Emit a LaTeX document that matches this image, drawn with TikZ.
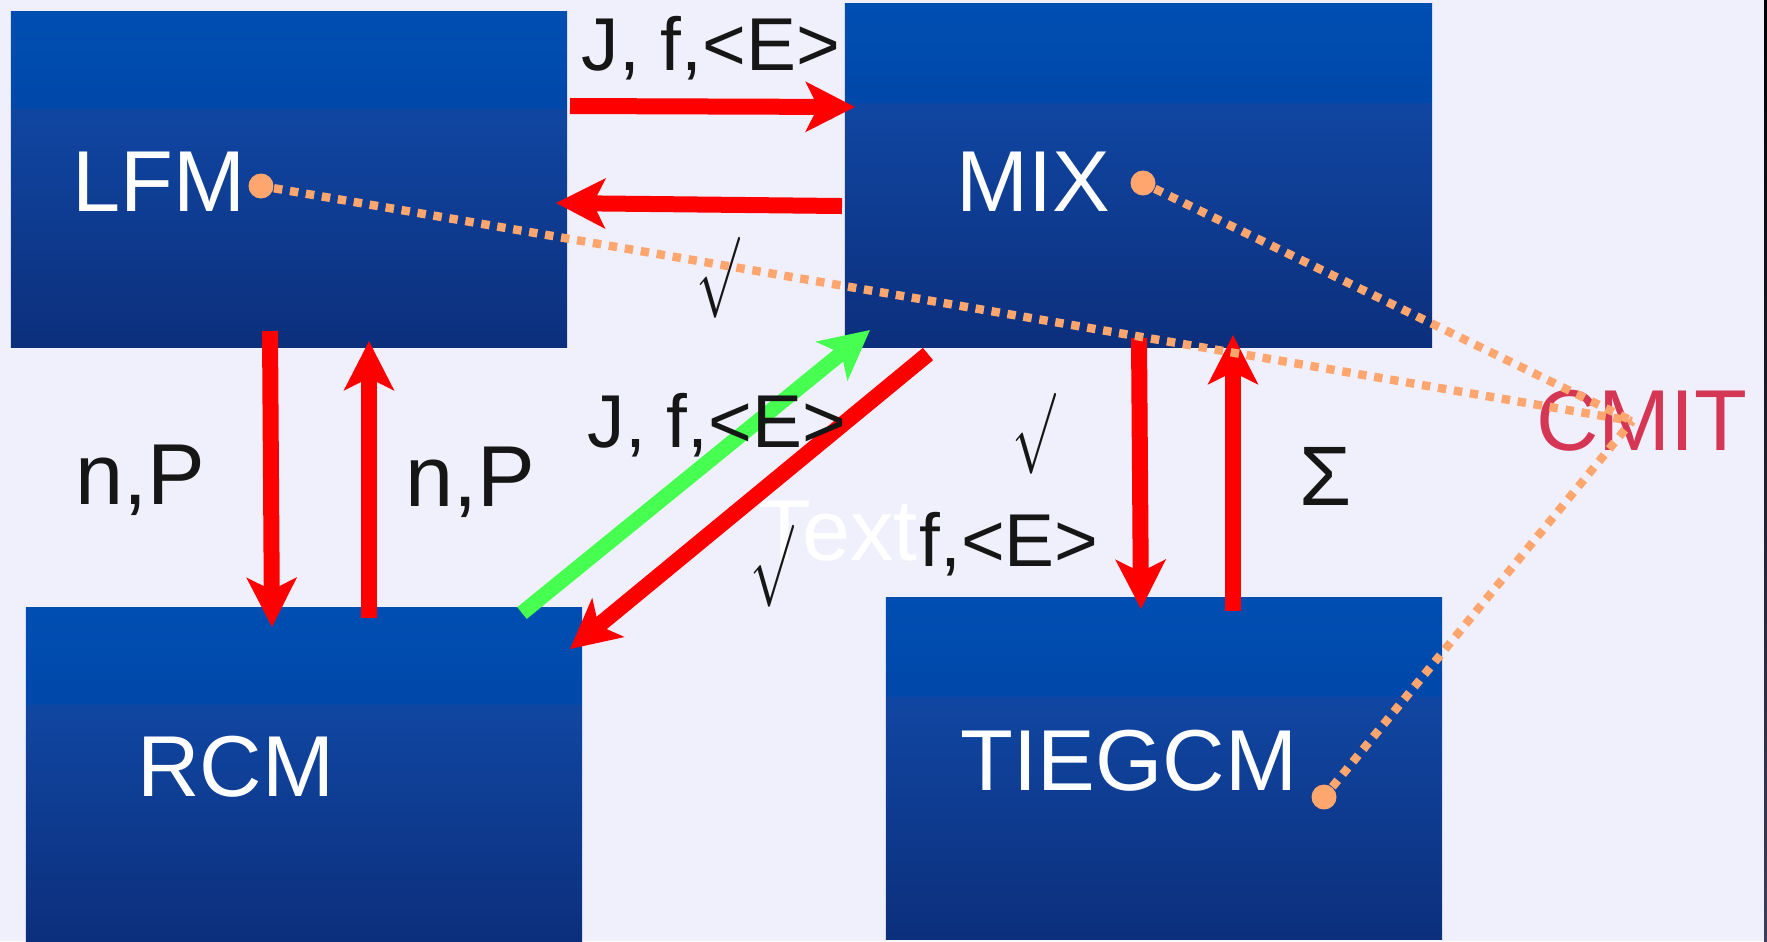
\documentclass[tikz,border=0pt]{standalone}
\usepackage{fontspec}
\usepackage{graphicx}
\setmainfont{Liberation Sans}
\usetikzlibrary{arrows.meta}

\definecolor{bg}{RGB}{240,240,252}
\definecolor{bxtop}{RGB}{0,78,178}
\definecolor{bxhi}{RGB}{0,72,170}
\definecolor{bxmid}{RGB}{16,70,162}
\definecolor{bxbot}{RGB}{12,47,124}
\definecolor{arrred}{RGB}{255,0,0}
\definecolor{arrgreen}{RGB}{70,255,80}
\definecolor{dotcol}{RGB}{255,166,110}
\definecolor{cmitcol}{RGB}{212,54,84}
\definecolor{lblcol}{RGB}{22,22,22}
\definecolor{edgetop}{RGB}{0,0,0}
\definecolor{edgebot}{RGB}{62,60,92}

\pgfdeclareverticalshading{boxshade}{100bp}{%
  color(0bp)=(bxbot); color(25bp)=(bxbot);
  color(60.4bp)=(bxmid); color(60.8bp)=(bxhi);
  color(75bp)=(bxtop); color(100bp)=(bxtop)}

\tikzset{
  modelbox/.style={rectangle, draw=none, shading=boxshade, inner sep=0pt},
  boxtext/.style={font=\fontsize{24.6}{30}\selectfont, text=white, anchor=base, inner sep=0pt},
  lbl/.style={font=\fontsize{21.3}{26}\selectfont, text=lblcol, anchor=base, inner sep=0pt},
  biglbl/.style={font=\fontsize{24.6}{30}\selectfont, text=lblcol, anchor=base, inner sep=0pt},
  radical/.style={text=lblcol, inner sep=0pt},
  redarr/.style={draw=arrred, line width=4.55pt,
    -{Stealth[length=13.9pt,width=14pt,inset=3.4pt]}},
  greenarr/.style={draw=arrgreen, line width=4.3pt,
    -{Stealth[length=13.9pt,width=14pt,inset=3.4pt]}},
  linkdot/.style={circle, fill=dotcol, draw=none, minimum size=7.1pt, inner sep=0pt},
  linkline/.style={draw=dotcol, line width=2.4pt, dash pattern=on 2.4pt off 2.2pt},
}

\begin{document}
\begin{tikzpicture}[x=0.01cm, y=-0.01cm]
  % page
  \fill[bg] (0,0) rectangle (1767,941);
  \useasboundingbox (0,0) rectangle (1767,941);
  \shade[top color=edgetop, bottom color=edgebot] (1764,0) rectangle (1767,941);

  % model boxes
  \node[modelbox, minimum width=5.56cm, minimum height=3.35cm] (lfm) at (289,179.5) {};
  \node[modelbox, minimum width=5.87cm, minimum height=3.43cm] (mix) at (1138.5,175.5) {};
  \node[modelbox, minimum width=5.56cm, minimum height=3.33cm] (rcm) at (304,774.5) {};
  \node[modelbox, minimum width=5.56cm, minimum height=3.41cm] (tie) at (1164,768.5) {};

  % placeholder caption
  \node[boxtext] (txt) at (838,560) {Text};

  % arrow end points
  \coordinate (t1s) at (570,106);  \coordinate (t1e) at (855,107);
  \coordinate (t2s) at (842,206);  \coordinate (t2e) at (556,203);
  \coordinate (d1s) at (270,331);  \coordinate (d1e) at (272,627);
  \coordinate (u1s) at (369,618);  \coordinate (u1e) at (369,341);
  \coordinate (g1s) at (522,613);  \coordinate (g1e) at (870,330);
  \coordinate (r1s) at (928,354);  \coordinate (r1e) at (570,649);
  \coordinate (d2s) at (1139,338); \coordinate (d2e) at (1141,609);
  \coordinate (u2s) at (1233,611); \coordinate (u2e) at (1233,335);

  % couplings
  \draw[redarr] (t1s) -- (t1e);
  \draw[redarr] (t2s) -- (t2e);
  \draw[redarr] (d1s) -- (d1e);
  \draw[redarr] (u1s) -- (u1e);
  \draw[greenarr] (g1s) -- (g1e);
  \draw[redarr] (r1s) -- (r1e);
  \draw[redarr] (d2s) -- (d2e);
  \draw[redarr] (u2s) -- (u2e);

  % exchanged quantities
  \node[lbl] (q1) at (711,70) {J, f,<E>};
  \node[lbl] (q2) at (717,447) {J, f,<E>};
  \node[lbl] (q3) at (1009,566.5) {f,<E>};
  \node[biglbl] (q4) at (140,504) {n,P};
  \node[biglbl] (q5) at (470,506) {n,P};
  \node[font=\fontsize{24}{29}\selectfont, text=lblcol, anchor=base, inner sep=0pt] (q6) at (1326,505) {Σ};
  \node[radical] (s1) at (718,278) {\resizebox*{0.43cm}{0.81cm}{$\surd$}};
  \node[radical] (s2) at (772,566) {\resizebox*{0.43cm}{0.82cm}{$\surd$}};
  \node[radical] (s3) at (1034,434) {\resizebox*{0.43cm}{0.81cm}{$\surd$}};

  % model names
  \node[boxtext] (lfmname) at (159,211) {LFM};
  \node[boxtext] (mixname) at (1033,211) {MIX};
  \node[boxtext] (rcmname) at (236,796) {RCM};
  \node[boxtext] (tiename) at (1129,790.6) {TIEGCM};
  \node[boxtext, text=cmitcol] (cmit) at (1642,450) {CMIT};

  % CMIT framework links
  \node[linkdot] (lfmdot) at (261,186) {};
  \node[linkdot] (mixdot) at (1143,183) {};
  \node[linkdot] (tiedot) at (1324,797) {};
  \coordinate (hub) at (1632,421);
  \draw[linkline] (lfmdot) -- (hub);
  \draw[linkline] (mixdot) -- (hub);
  \draw[linkline] (tiedot) -- (hub);
\end{tikzpicture}
\end{document}
